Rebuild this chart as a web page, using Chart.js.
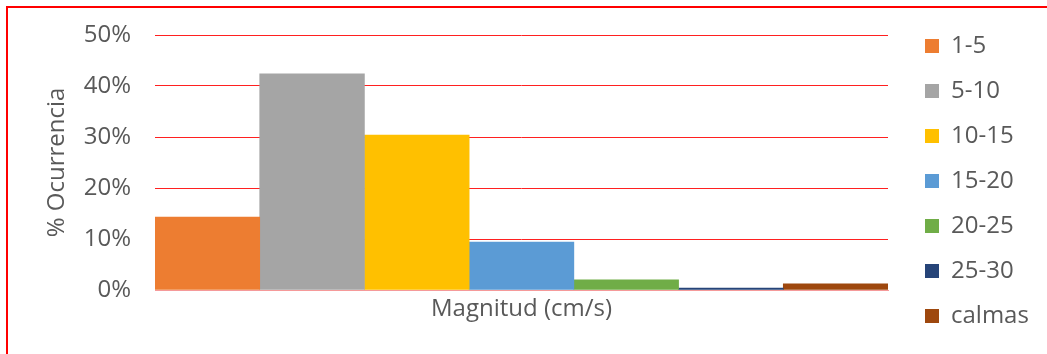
<!DOCTYPE html>
<html>
<head>
<meta charset="utf-8">
<script src="https://cdn.jsdelivr.net/npm/chart.js@4"></script>
<style>
  html, body { margin: 0; padding: 0; background: #fff; overflow: hidden; }
  #marco { position: absolute; left: 6px; top: 6px; width: 2000px; height: 2000px; border: 2px solid #ff0000; pointer-events: none; }
  #contenedor { position: absolute; left: 0; top: 0; width: 1047px; height: 354px; }
</style>
</head>
<body>
<div id="contenedor"><canvas id="grafico" width="1047" height="354"></canvas></div>
<div id="marco"></div>
<script>
const categorias = ["Magnitud (cm/s)"];
const rangos = ["1-5", "5-10", "10-15", "15-20", "20-25", "25-30", "calmas"];
const ocurrencia = [14.3, 42.4, 30.4, 9.4, 2.0, 0.4, 1.2];
const colores = ["#ED7D31", "#A5A5A5", "#FFC000", "#5B9BD5", "#70AD47", "#264478", "#9E480E"];
const ticksY = [0, 10, 20, 30, 40, 50];

const fuente = "'Open Sans', sans-serif";
const gris = "#595959";
const tamTexto = 24;
const paddingLeyenda = 21;
const bordeDerecho = 888;

const datasets = rangos.map(function(r, i) {
    return {
        label: r,
        data: [ocurrencia[i]],
        backgroundColor: colores[i],
        borderWidth: 0,
        barPercentage: 1,
        categoryPercentage: 1
    };
});

const moverLeyenda = {
    id: "moverLeyenda",
    afterLayout(chart) {
        chart.legend.left += 16;
        chart.legend.right += 16;
    }
};

const grafico = new Chart(document.getElementById("grafico"), {
    type: "bar",
    data: { labels: categorias, datasets },
    plugins: [moverLeyenda],
    options: {
        responsive: false,
        animation: false,
        layout: { padding: { left: 0, top: 13, right: 30, bottom: 0 } },
        plugins: {
            tooltip: { enabled: false },
            legend: {
                position: "right",
                align: "start",
                labels: {
                    boxWidth: 14,
                    boxHeight: 14,
                    padding: paddingLeyenda,
                    color: gris,
                    font: { family: fuente, size: tamTexto }
                }
            }
        },
        scales: {
            x: {
                grid: { display: false },
                border: { color: "#f59a9a", width: 1 },
                ticks: { color: gris, padding: -3, font: { family: fuente, size: tamTexto } },
                afterFit(scale) { scale.height = 64; }
            },
            y: {
                min: 0,
                max: 50,
                afterBuildTicks(scale) {
                    scale.ticks = ticksY.map(function(v) { return { value: v }; });
                },
                grid: { color: "#ff2020", lineWidth: 1, drawTicks: false },
                border: { display: false },
                ticks: {
                    color: gris,
                    padding: 24,
                    font: { family: fuente, size: tamTexto },
                    callback: function(v) { return v + "%"; }
                },
                title: {
                    display: true,
                    text: "% Ocurrencia",
                    color: gris,
                    padding: { top: 43, bottom: 0 },
                    font: { family: fuente, size: tamTexto }
                },
                afterFit(scale) {
                    scale.width = 155;
                    scale.paddingTop = 35;
                }
            }
        }
    }
});

// ajustar el padding derecho para que el area termine en el mismo sitio
grafico.options.layout.padding.right += grafico.chartArea.right - bordeDerecho;
grafico.update();
</script>
</body>
</html>
